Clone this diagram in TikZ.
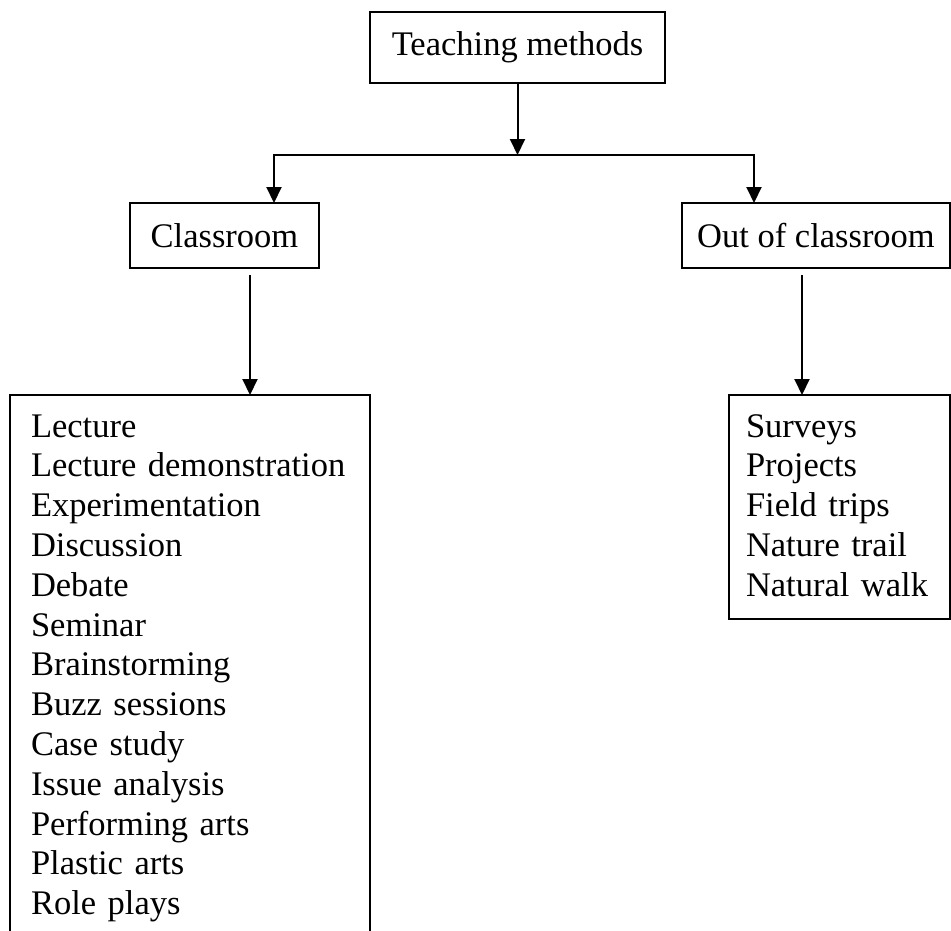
\documentclass[tikz,border=0pt]{standalone}
\usepackage{fontspec}
\setmainfont{Liberation Serif}
\usetikzlibrary{arrows.meta, positioning}
\tikzstyle{block} = [rectangle, draw, line width=2pt, text centered, inner sep=0pt, outer sep=0pt]
\tikzstyle{listbox} = [rectangle, draw, line width=2pt, align=left, inner ysep=0pt, outer sep=0pt, text height=42pt]
\tikzstyle{arrow} = [line width=2pt, -{Triangle[width=15pt, length=16pt]}]

\begin{document}
\begin{tikzpicture}[font=\fontsize{34.5pt}{39.8pt}\selectfont]
	\useasboundingbox (0,0) rectangle (951pt,-930pt);
	\clip (0,0) rectangle (951pt,-930pt);

	% Top level
	\node (teach) [block, minimum width=295pt, minimum height=71pt] at (517.5pt,-47.5pt) {Teaching methods};
	\coordinate [below=72pt of teach] (split);

	% Second level
	\node (classroom) [block, minimum width=189pt, minimum height=65pt, below left=120pt and 51pt of teach] {Classroom};
	\node (outside) [block, minimum width=268pt, minimum height=65pt, below right=120pt and 17pt of teach] {Out of classroom};

	% Lists
	\node (classlist) [listbox, inner xsep=21pt, text width=318pt, text depth=503pt, below=127pt of classroom, xshift=-34.5pt] {Lecture\\Lecture demonstration\\Experimentation\\Discussion\\Debate\\Seminar\\Brainstorming\\Buzz sessions\\Case study\\Issue analysis\\Performing arts\\Plastic arts\\Role plays};
	\node (outlist) [listbox, inner xsep=17pt, text width=187pt, text depth=182pt, below=127pt of outside, xshift=23.5pt] {Surveys\\Projects\\Field trips\\Nature trail\\Natural walk};

	% Entry points
	\coordinate (inL) at ([xshift=49.5pt]classroom.north);
	\coordinate (inR) at ([xshift=-62pt]outside.north);
	\coordinate (outL) at ([xshift=25.5pt, yshift=-7pt]classroom.south);
	\coordinate (outR) at ([xshift=-14pt, yshift=-7pt]outside.south);

	% Arrows
	\draw[arrow] (teach) -- (split);
	\draw[arrow] (split) -| (inL);
	\draw[arrow] (split) -| (inR);
	\draw[arrow] (outL) -- (outL |- classlist.north);
	\draw[arrow] (outR) -- (outR |- outlist.north);
\end{tikzpicture}
\end{document}
